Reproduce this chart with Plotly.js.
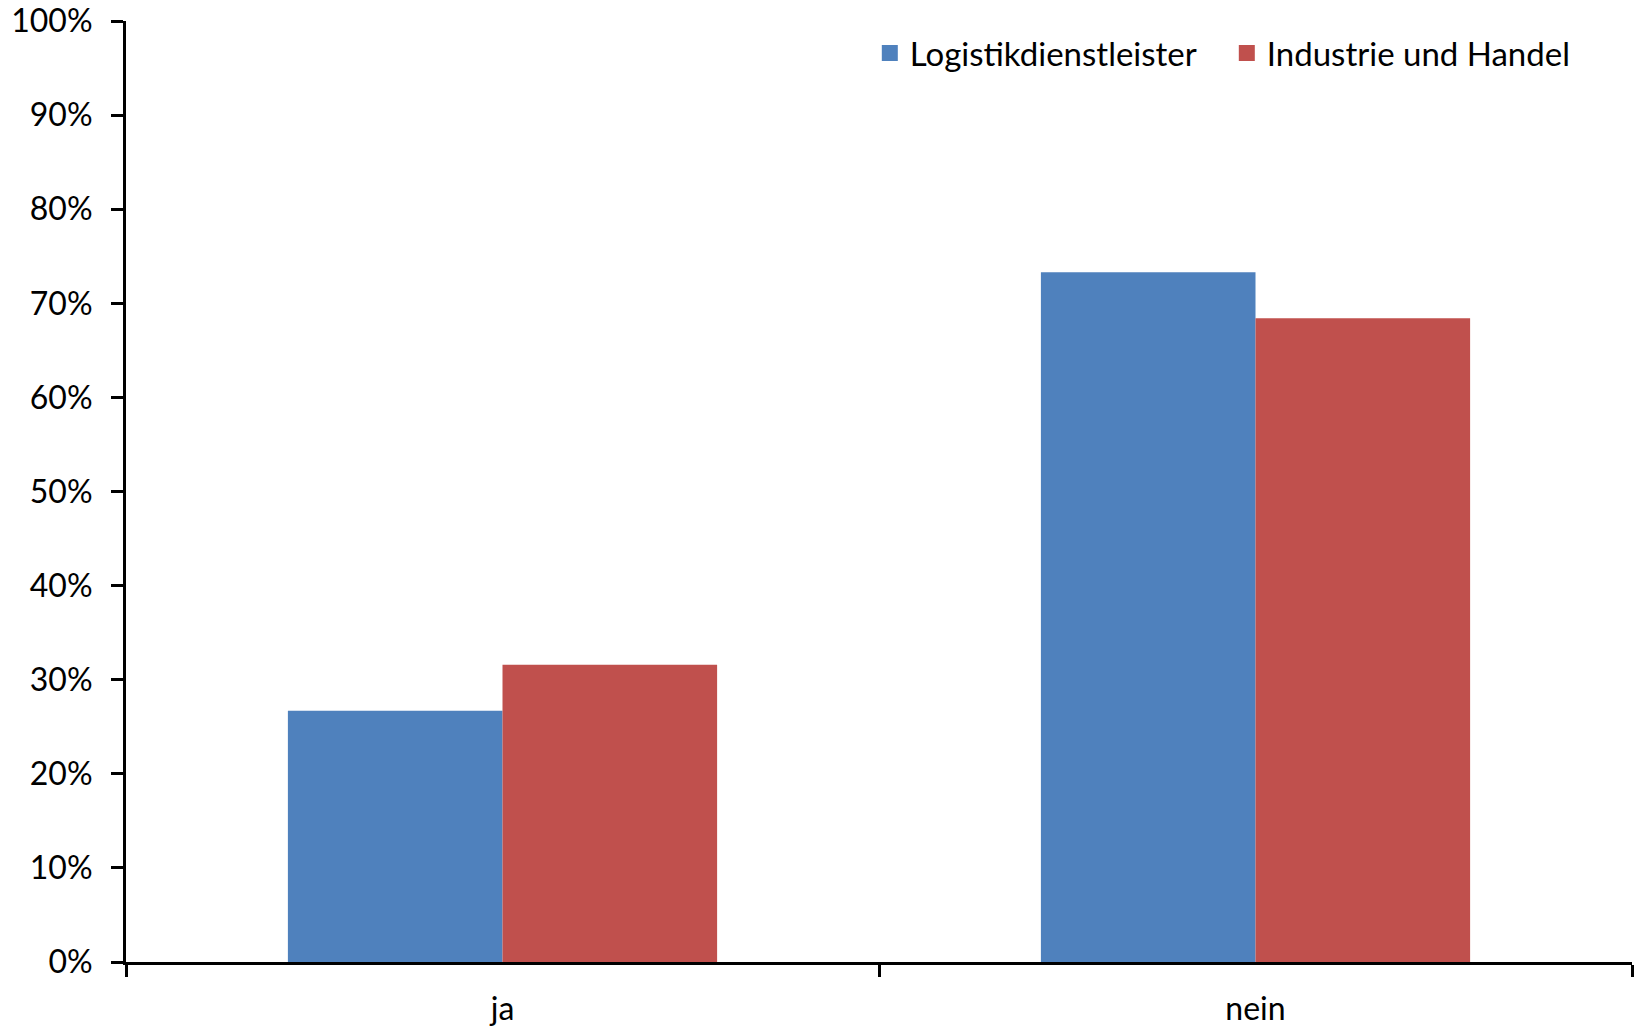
<!DOCTYPE html>
<html>
<head>
<meta charset="utf-8">
<script src="https://cdn.plot.ly/plotly-3.0.1.min.js"></script>
<style>html,body{margin:0;padding:0;background:#fff;}#chart{width:1637px;height:1028px;}</style>
</head>
<body>
<div id="chart"></div>
<script>
const categories = ["ja", "nein"];
const seriesNames = ["Logistikdienstleister", "Industrie und Handel"];
const logistik = [0.267, 0.733];
const industrie = [0.316, 0.684];
const colors = ["#4F81BD", "#C0504D"];
const font = "Lato, 'Noto Sans', sans-serif";

const traces = [
  {type: "bar", name: seriesNames[0], x: categories, y: logistik, marker: {color: colors[0]}, hoverinfo: "none", showlegend: false},
  {type: "bar", name: seriesNames[1], x: categories, y: industrie, marker: {color: colors[1]}, hoverinfo: "none", showlegend: false},
  {type: "scatter", mode: "markers", name: seriesNames[0], x: [null], y: [null], marker: {symbol: "square", size: 19, color: colors[0]}, showlegend: true},
  {type: "scatter", mode: "markers", name: seriesNames[1], x: [null], y: [null], marker: {symbol: "square", size: 19, color: colors[1]}, showlegend: true}
];

const layout = {
  width: 1637, height: 1028,
  margin: {l: 126, r: 5, t: 21, b: 66},
  paper_bgcolor: "#fff", plot_bgcolor: "#fff",
  font: {family: font, size: 32, color: "#000"},
  barmode: "group", bargap: 0.43, bargroupgap: 0,
  showlegend: true,
  legend: {orientation: "h", x: 0.968, xanchor: "right", y: 0.966, yanchor: "middle",
           entrywidth: 312, entrywidthmode: "pixels",
           font: {family: font, size: 33, color: "#000"}, itemwidth: 30, tracegroupgap: 0, bgcolor: "rgba(0,0,0,0)"},
  xaxis: {
    type: "category", showline: true, linecolor: "#000", linewidth: 3,
    ticks: "outside", ticklen: 12, tickwidth: 3, tickcolor: "#000", tickson: "boundaries",
    showgrid: false, zeroline: false, ticklabelstandoff: 17,
    tickfont: {family: font, size: 32, color: "#000"}
  },
  yaxis: {
    range: [0, 1], dtick: 0.1, tick0: 0, tickformat: ".0%",
    showline: true, linecolor: "#000", linewidth: 3,
    ticks: "outside", ticklen: 12, tickwidth: 3, tickcolor: "#000",
    showgrid: false, zeroline: false, ticklabelstandoff: 12,
    tickfont: {family: font, size: 32, color: "#000"}
  }
};

Plotly.newPlot("chart", traces, layout, {displayModeBar: false, staticPlot: true});
</script>
</body>
</html>
